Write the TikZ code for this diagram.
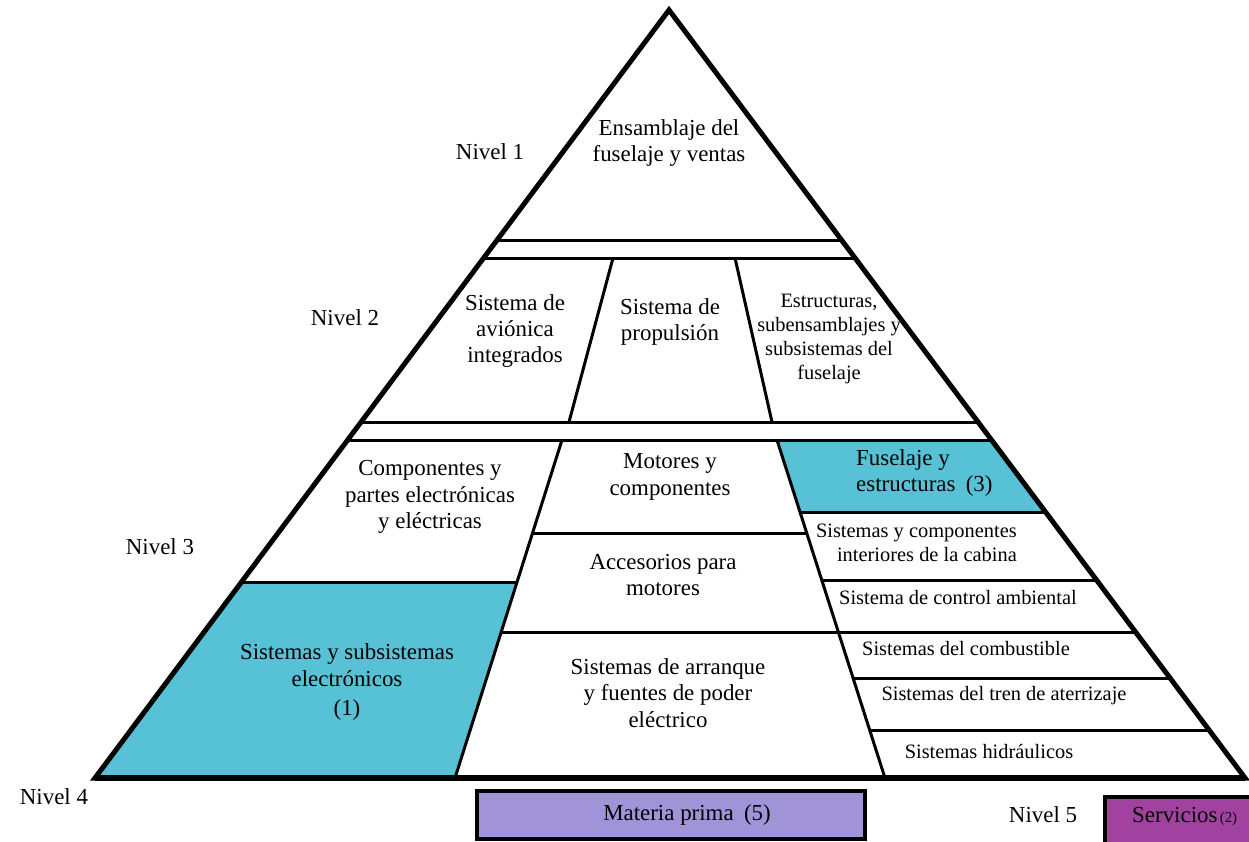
\documentclass[tikz,border=0pt]{standalone}
\usepackage{fontspec}
\setmainfont{Liberation Serif}
\usetikzlibrary{calc}
\definecolor{tealfill}{RGB}{87,193,213}
\definecolor{rawfill}{RGB}{160,147,215}
\definecolor{servfill}{RGB}{162,66,160}
\begin{document}
\begin{tikzpicture}[x=1bp,y=-1bp,
  edge/.style={line width=5bp, line join=miter},
  rule/.style={line width=3bp},
  txt/.style={font=\fontsize{23}{26.5}\selectfont, align=center, inner sep=0pt},
  smalltxt/.style={font=\fontsize{20.5}{24}\selectfont, align=center, inner sep=0pt},
  boxstyle/.style={draw=black, line width=4.5bp}
]
\useasboundingbox (0,0) rectangle (1249,842);

% pyramid corners
\coordinate (A) at (669,10);
\coordinate (BL) at (95,778);
\coordinate (BR) at (1245,778);

% shaded cells
\fill[tealfill] (241.5,582) -- (517,582) -- (455,778) -- (95,778) -- cycle;
\fill[tealfill] (777,440) -- (991.5,440) -- (1045.5,512) -- (800,512) -- cycle;

% horizontal bands
\draw[rule] (497,240) -- (841.5,240);
\draw[rule] (483.6,258) -- (855,258);
\draw[rule] (361,422) -- (978,422);
\draw[rule] (347.6,440) -- (991.5,440);

% level 2 dividers
\draw[rule] (613,258) -- (569,422);
\draw[rule] (735,258) -- (772,422);

% level 3 dividers
\draw[rule] (562,440) -- (455,778);
\draw[rule] (777,440) -- (885,778);

% level 3 left column
\draw[rule] (241.5,582) -- (517,582);
% level 3 middle column
\draw[rule] (532.6,533) -- (806.7,533);
\draw[rule] (501.2,632) -- (838.3,632);
% level 3 right column
\draw[rule] (800,512) -- (1045.5,512);
\draw[rule] (821.7,580) -- (1096.5,580);
\draw[rule] (838.3,632) -- (1135.5,632);
\draw[rule] (853,678) -- (1170,678);
\draw[rule] (869.6,730) -- (1209,730);

% outline
\draw[edge] (A) -- (BL) -- (BR) -- cycle;
\draw[line width=5.5bp] (BL) -- (BR);

% level 1
\node[txt] (n1) at (669,143) {Ensamblaje del\\fuselaje y ventas};

% level 2
\node[txt] (n2a) at (515,331) {Sistema de\\aviónica\\integrados};
\node[txt] (n2b) at (670,322) {Sistema de\\propulsión};
\node[smalltxt] (n2c) at (829,339) {Estructuras,\\subensamblajes y\\subsistemas del\\fuselaje};

% level 3
\node[txt] (n3a) at (430,497) {Componentes y\\partes electrónicas\\y eléctricas};
\node[txt] (n3b) at (347,682) {Sistemas y subsistemas\\electrónicos\\[3bp](1)};
\node[txt] (n3c) at (670,477) {Motores y\\componentes};
\node[txt] (n3d) at (663,575) {Accesorios para\\motores};
\node[txt] (n3e) at (668,693) {Sistemas de arranque\\y fuentes de poder\\eléctrico};
\node[txt, align=left, anchor=west] (n3f) at (856,473) {Fuselaje y\\estructuras\hspace{0.45em}(3)};
\node[smalltxt, align=right, anchor=east] (n3g) at (1017,543) {Sistemas y componentes\\interiores de la cabina};
\node[smalltxt] (n3h) at (958,598) {Sistema de control ambiental};
\node[smalltxt] (n3i) at (966,649) {Sistemas del combustible};
\node[smalltxt] (n3j) at (1004,696) {Sistemas del tren de aterrizaje};
\node[smalltxt] (n3k) at (989,751) {Sistemas hidráulicos};

% level labels
\node[txt] (l1) at (490,152) {Nivel 1};
\node[txt] (l2) at (345,318) {Nivel 2};
\node[txt] (l3) at (160,547) {Nivel 3};
\node[txt] (l4) at (54,797) {Nivel 4};
\node[txt] (l5) at (1043,815) {Nivel 5};

% inputs below the pyramid
\draw[boxstyle, fill=rawfill] (477,791) rectangle (865,839);
\node[txt] (raw) at (687,815) {Materia prima\hspace{0.45em}(5)};
\draw[boxstyle, fill=servfill] (1105,797) rectangle (1251,844);
\node[txt, anchor=west] (serv) at (1132,816) {Servicios\hspace{0.1em}{\fontsize{15}{15}\selectfont(2)}};
\end{tikzpicture}
\end{document}
